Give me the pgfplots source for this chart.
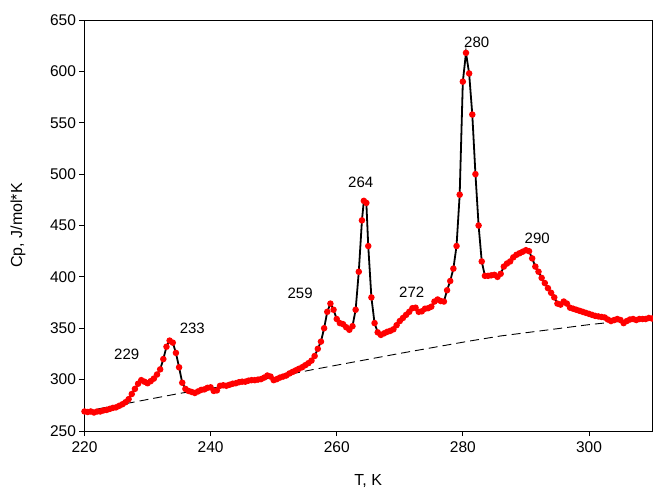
\documentclass[border=0pt]{standalone}
\usepackage{fontspec}
\setmainfont{Liberation Sans}
\usepackage{pgfplots}
\usepackage{pgfplotstable}
\pgfplotsset{compat=1.18}
\pgfplotstableread{
T Cp
220.0 269
220.5 268.5
221.0 269
221.5 268
222.0 269
222.5 269
223.0 270
223.5 270.5
224.0 271.5
224.5 272.5
225.0 273
225.5 274.5
226.0 276
226.5 278
227.0 281
227.5 286
228.0 291
228.5 296
229.0 299.5
229.5 298
230.0 296.5
230.5 298.5
231.0 301
231.5 305
232.0 310
232.5 320
233.0 332
233.5 338
234.0 336
234.5 326
235.0 312
235.5 297
236.0 291
236.5 289
237.0 288
237.5 287
238.0 288.5
238.5 290
239.0 290.5
239.5 292
240.0 292.5
240.5 289
241.0 289.5
241.5 294
242.0 294.5
242.5 294
243.0 295
243.5 296
244.0 296.5
244.5 297.5
245.0 298
245.5 298
246.0 299
246.5 299.5
247.0 299.5
247.5 300
248.0 300.5
248.5 302
249.0 304
249.5 303
250.0 299.5
250.5 300.5
251.0 302
251.5 303
252.0 304
252.5 306
253.0 307.5
253.5 309
254.0 310.5
254.5 312
255.0 314
255.5 316
256.0 318.5
256.5 323
257.0 330
257.5 337
258.0 350
258.5 366
259.0 374
259.5 368
260.0 359
260.5 355
261.0 354
261.5 351
262.0 348.5
262.5 352
263.0 368
263.5 405
264.0 455
264.3 474
264.7 472
265.0 430
265.5 380
266.0 355
266.5 346
267.0 343.5
267.5 345
268.0 346.5
268.5 347.5
269.0 349
269.5 353
270.0 357
270.5 360
271.0 363
271.5 366
272.0 369.5
272.5 370
273.0 366
273.5 366.5
274.0 369
274.5 369.5
275.0 371
275.5 376
276.0 378
276.5 376.5
277.0 376
277.5 387
278.0 396
278.5 408
279.0 430
279.5 480
280.0 590
280.5 618
281.0 598
281.5 558
282.0 500
282.5 450
283.0 415
283.5 401
284.0 401
284.5 401.5
285.0 402
285.5 400
286.0 403
286.5 410
287.0 413
287.5 415
288.0 419
288.5 421.5
289.0 423
289.5 424.5
290.0 426
290.5 425
291.0 418
291.5 410
292.0 405
292.5 399
293.0 394
293.5 389
294.0 384.5
294.5 380
295.0 374
295.5 373
296.0 376
296.5 374
297.0 370
297.5 369
298.0 368
298.5 367
299.0 366
299.5 365
300.0 364
300.5 363
301.0 362
301.5 361.5
302.0 361
302.5 360.5
303.0 358.5
303.5 357
304.0 358
304.5 359
305.0 358
305.5 355
306.0 357
306.5 358.5
307.0 359
307.5 358
308.0 359
308.5 359
309.0 359
309.5 360
310.0 359.5
}\cpdata
\pgfplotstableread{
T Cp
220 269
235 286.5
243 294.5
250 302
256 309.5
270 325.5
281 337.5
286 342.5
300 353.5
310 360
}\basedata
\begin{document}
\begin{tikzpicture}
\begin{axis}[
  scale only axis,
  width=567.5pt, height=411pt,
  xmin=220, xmax=310, ymin=250, ymax=650,
  xtick={220,240,...,300}, ytick={250,300,...,650},
  tick align=outside, major tick length=5pt,
  xtick pos=bottom, ytick pos=left,
  axis line style={line width=0.8pt},
  tick style={line width=0.8pt, black},
  /pgf/number format/assume math mode=true,
  ticklabel style={font=\fontsize{15.5}{17}\selectfont},
  xticklabel style={yshift=-2pt},
  xlabel={T, K}, ylabel={Cp, J/mol*K},
  xlabel style={at={(axis description cs:0.5,-0.1217)}, anchor=center, font=\fontsize{16}{18}\selectfont},
  ylabel style={at={(axis description cs:-0.1172,0.5)}, anchor=center, font=\fontsize{16}{18}\selectfont},
]
\addplot[black, dash pattern=on 9pt off 5pt, line width=0.9pt] table[x=T,y=Cp] {\basedata};
\addplot[black, line width=1.8pt, mark=*, mark size=2.3pt, mark options={fill=red, draw=red, solid}] table[x=T,y=Cp] {\cpdata};
\node[font=\fontsize{15}{17}\selectfont] at (axis cs:226.7,324.6) {229};
\node[font=\fontsize{15}{17}\selectfont] at (axis cs:237.1,350) {233};
\node[font=\fontsize{15}{17}\selectfont] at (axis cs:254.2,384) {259};
\node[font=\fontsize{15}{17}\selectfont] at (axis cs:263.8,492) {264};
\node[font=\fontsize{15}{17}\selectfont] at (axis cs:271.9,384.6) {272};
\node[font=\fontsize{15}{17}\selectfont] at (axis cs:282.2,628) {280};
\node[font=\fontsize{15}{17}\selectfont] at (axis cs:291.8,437.5) {290};
\end{axis}
\pgfresetboundingbox
\path ([xshift=-84.5pt,yshift=-62pt]current axis.south west) rectangle ([xshift=1pt,yshift=20pt]current axis.north east);
\end{tikzpicture}
\end{document}
